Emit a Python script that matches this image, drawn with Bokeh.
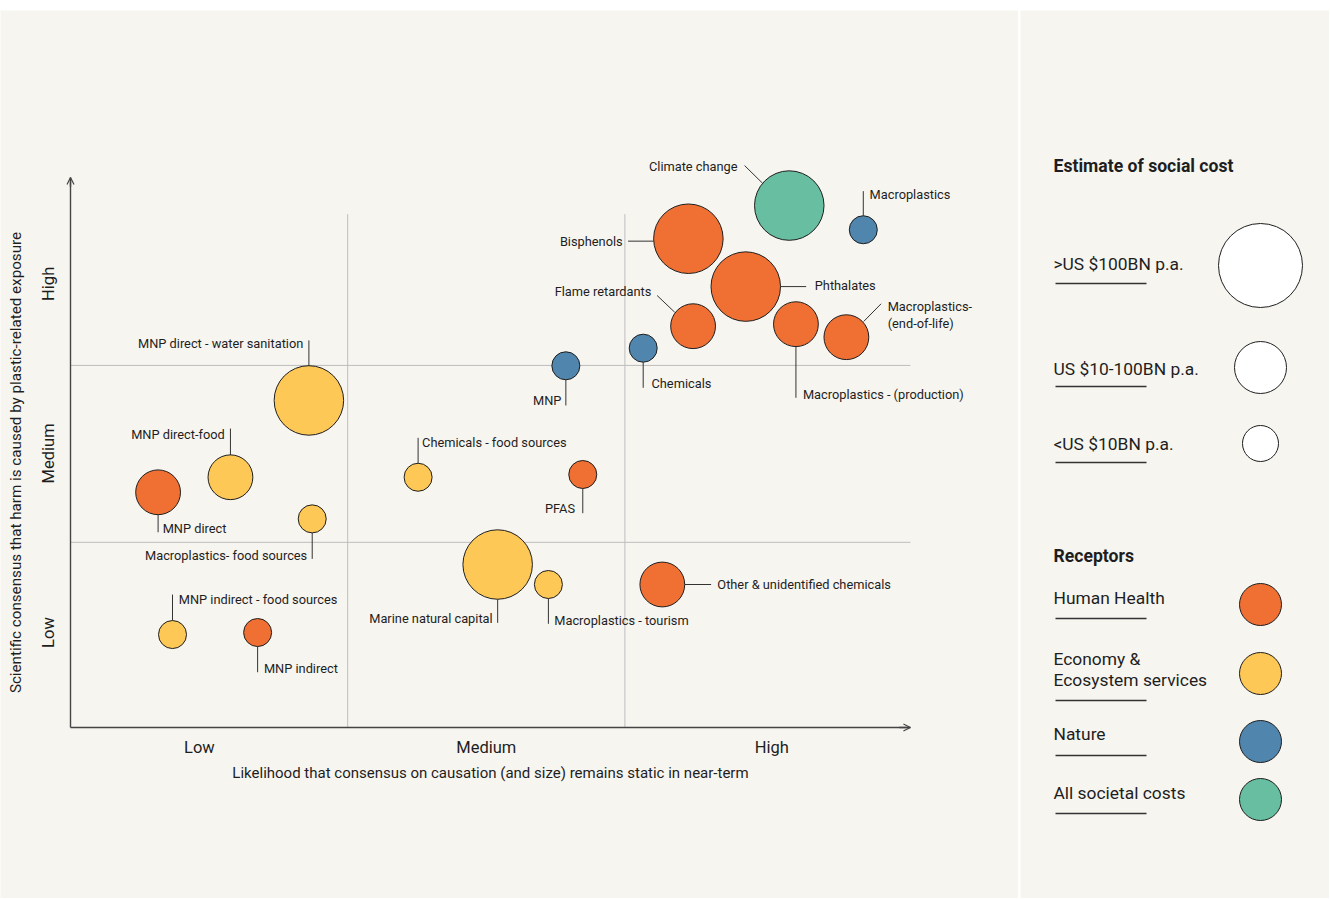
import math
from bokeh.plotting import figure
from bokeh.layouts import row, column
from bokeh.models import ColumnDataSource, Arrow, OpenHead, Range1d, Spacer
from bokeh.core.properties import value
from bokeh.embed import file_html
from bokeh.resources import INLINE

# ---------------- data ----------------
labels = ["Climate change", "Macroplastics", "Bisphenols", "Phthalates", "Flame retardants",
          "Macroplastics - (production)", "Macroplastics-\n(end-of-life)", "Chemicals", "MNP",
          "MNP direct - water sanitation", "MNP direct-food", "MNP direct",
          "Macroplastics- food sources", "Chemicals - food sources", "PFAS",
          "Marine natural capital", "Macroplastics - tourism", "Other & unidentified chemicals",
          "MNP indirect - food sources", "MNP indirect"]
likelihood = [2.593, 2.860, 2.229, 2.436, 2.246, 2.617, 2.799, 2.066, 1.787, 0.860,
              0.577, 0.316, 0.872, 1.254, 1.848, 1.541, 1.724, 2.135, 0.368, 0.675]
consensus = [2.847, 2.715, 2.666, 2.405, 2.189, 2.200, 2.129, 2.069, 1.973, 1.784,
             1.365, 1.283, 1.138, 1.365, 1.380, 0.889, 0.780, 0.780, 0.507, 0.518]
receptor = ["All societal costs", "Nature", "Human Health", "Human Health", "Human Health",
            "Human Health", "Human Health", "Nature", "Nature", "Economy & Ecosystem services",
            "Economy & Ecosystem services", "Human Health", "Economy & Ecosystem services",
            "Economy & Ecosystem services", "Human Health", "Economy & Ecosystem services",
            "Economy & Ecosystem services", "Human Health", "Economy & Ecosystem services",
            "Human Health"]
cost = [">US $100BN p.a.", "<US $10BN p.a.", ">US $100BN p.a.", ">US $100BN p.a.",
        "US $10-100BN p.a.", "US $10-100BN p.a.", "US $10-100BN p.a.", "<US $10BN p.a.",
        "<US $10BN p.a.", ">US $100BN p.a.", "US $10-100BN p.a.", "US $10-100BN p.a.",
        "<US $10BN p.a.", "<US $10BN p.a.", "<US $10BN p.a.", ">US $100BN p.a.",
        "<US $10BN p.a.", "US $10-100BN p.a.", "<US $10BN p.a.", "<US $10BN p.a."]

level_labels = ["Low", "Medium", "High"]
x_level_ticks = [0.465, 1.50, 2.53]
y_level_ticks = [0.518, 1.495, 2.42]
x_dividers = [1.0, 2.0]
y_dividers = [1.01, 1.975]
x_axis_max = 3.03
y_axis_max = 3.0

cost_categories = [">US $100BN p.a.", "US $10-100BN p.a.", "<US $10BN p.a."]
receptor_categories = ["Human Health", "Economy & Ecosystem services", "Nature", "All societal costs"]
receptor_legend_text = ["Human Health", "Economy &\nEcosystem services", "Nature", "All societal costs"]

x_title = "Likelihood that consensus on causation (and size) remains static in near-term"
y_title = "Scientific consensus that harm is caused by plastic-related exposure"

# ---------------- styles ----------------
BG = "#F7F5F0"
INK = "#1e1e1e"
AXIS = "#444444"
FONT = "Roboto"
receptor_colors = {"Human Health": "#F07034", "Economy & Ecosystem services": "#FEC856",
                   "Nature": "#5085AD", "All societal costs": "#67BEA0"}
cost_sizes = {">US $100BN p.a.": 69.5, "US $10-100BN p.a.": 44.8, "<US $10BN p.a.": 28.0}
legend_cost_sizes = [84, 52, 36]

PX_X = 277.2   # pixels per x unit
PX_Y = 183.33  # pixels per y unit
TOP_GAP = 10
W_MAIN, H = 1018, 888
ORIGIN_X = 70            # canvas px from left where x=0
ORIGIN_Y = H - 717       # canvas px from bottom where y=0

# leader lines and label anchors as pixel offsets from bubble centre (screen y down)
# (x1, y1, x2, y2, tx, ty, align)
label_layout = [
    (-44.7, -40, -26.7, -22.3, -51.7, -39.3, "right"),
    (0, -14, 0, -38.6, 6.3, -35, "left"),
    (-60.3, 2.4, -34.7, 2.4, -65.7, 2.7, "right"),
    (34.7, 0, 60.4, 0, 69, -1, "left"),
    (-36, -30.7, -18.4, -14, -41.7, -34.7, "right"),
    (0, 22.3, 0, 73.6, 7, 70.3, "left"),
    (17.3, -15.7, 34.7, -33.4, 41.3, -31, "left"),
    (0, 14, 0, 39.6, 8.3, 35.6, "left"),
    (0, 14, 0, 39.7, -4.5, 34.7, "right"),
    (0, -34.7, 0, -60, -5.6, -57.3, "right"),
    (0, -22.3, 0, -48.7, -5.7, -42.7, "right"),
    (0, 22.3, 0, 40, 4.6, 36, "left"),
    (0, 14, 0, 40, -5, 36.7, "right"),
    (0, -14, 0, -39.4, 4, -35, "left"),
    (0, 14, 0, 38.7, -7.7, 34.3, "right"),
    (0, 34.7, 0, 58.3, -5, 53.7, "right"),
    (0, 14, 0, 39.3, 5.9, 36, "left"),
    (22.4, 0, 48.8, 0, 55, -0.3, "left"),
    (0, -14, 0, -40, 6.3, -35, "left"),
    (0, 14, 0, 39.7, 6.3, 35.7, "left"),
]

# ---------------- main chart ----------------
p = figure(width=W_MAIN, height=H,
           x_range=Range1d(-ORIGIN_X / PX_X, (W_MAIN - ORIGIN_X) / PX_X),
           y_range=Range1d(-ORIGIN_Y / PX_Y, (H - ORIGIN_Y) / PX_Y),
           output_backend="svg", toolbar_location=None, min_border=0)
p.background_fill_color = BG
p.border_fill_color = BG
p.outline_line_color = None
p.grid.visible = False
p.axis.visible = False

# dividers
top_div = 2.80
p.segment(x0=x_dividers, y0=[0] * len(x_dividers), x1=x_dividers, y1=[top_div] * len(x_dividers),
          line_color="#BDBDBD", line_width=1)
p.segment(x0=[0] * len(y_dividers), y0=y_dividers, x1=[x_axis_max] * len(y_dividers), y1=y_dividers,
          line_color="#BDBDBD", line_width=1)

# axis lines with arrows
p.segment(x0=[0, 0], y0=[0, 0], x1=[x_axis_max, 0], y1=[0, y_axis_max], line_color=AXIS, line_width=1.4)
p.add_layout(Arrow(end=OpenHead(size=7, line_color=AXIS, line_width=1.2), line_color=AXIS,
                   line_width=1.4, x_start=x_axis_max - 0.04, y_start=0, x_end=x_axis_max, y_end=0))
p.add_layout(Arrow(end=OpenHead(size=7, line_color=AXIS, line_width=1.2), line_color=AXIS,
                   line_width=1.4, x_start=0, y_start=y_axis_max - 0.05, x_end=0, y_end=y_axis_max))

# tick labels and axis titles
p.text(x=x_level_ticks, y=[-20 / PX_Y] * 3, text=level_labels, text_align="center",
       text_baseline="middle", text_font=value(FONT), text_font_size="16.5px", text_color=INK)
p.text(x=[-22 / PX_X] * 3, y=y_level_ticks, text=level_labels, angle=math.pi / 2,
       text_align="center", text_baseline="middle", text_font=value(FONT),
       text_font_size="16.5px", text_color=INK)
p.text(x=[x_axis_max / 2], y=[-45 / PX_Y], text=[x_title], text_align="center",
       text_baseline="middle", text_font=value(FONT), text_font_size="15px", text_color=INK)
p.text(x=[-55 / PX_X], y=[265 / PX_Y], text=[y_title], angle=math.pi / 2, text_align="center",
       text_baseline="middle", text_font=value(FONT), text_font_size="15.2px", text_color=INK)

# leader lines + labels
lx0, ly0, lx1, ly1 = [], [], [], []
tx, ty, tt, ta = [], [], [], []
for i, lab in enumerate(labels):
    x1, y1, x2, y2, ox, oy, al = label_layout[i]
    cx, cy = likelihood[i], consensus[i]
    lx0.append(cx + x1 / PX_X); ly0.append(cy - y1 / PX_Y)
    lx1.append(cx + x2 / PX_X); ly1.append(cy - y2 / PX_Y)
    for k, line in enumerate(lab.split("\n")):
        tx.append(cx + ox / PX_X)
        ty.append(cy - (oy + k * 17.6) / PX_Y)
        tt.append(line)
        ta.append(al)
p.segment(x0=lx0, y0=ly0, x1=lx1, y1=ly1, line_color="#333333", line_width=1)

src = ColumnDataSource(dict(x=likelihood, y=consensus, label=labels,
                            color=[receptor_colors[r] for r in receptor],
                            size=[cost_sizes[c] for c in cost]))
p.scatter(x="x", y="y", size="size", marker="circle", fill_color="color", line_color=INK,
          line_width=1, source=src)

tsrc = ColumnDataSource(dict(x=tx, y=ty, text=tt, align=ta))
p.text(x="x", y="y", text="text", text_align="align", text_baseline="middle", source=tsrc,
       text_font=value(FONT), text_font_size="12.8px", text_color=INK)

# ---------------- legend panel ----------------
W_LEG = 309
lg = figure(width=W_LEG, height=H, x_range=Range1d(0, W_LEG), y_range=Range1d(H, 0),
            output_backend="svg", toolbar_location=None, min_border=0)
lg.background_fill_color = BG
lg.border_fill_color = BG
lg.outline_line_color = None
lg.axis.visible = False
lg.grid.visible = False

TEXT_X, CIRCLE_X = 33, 240
UL_X0, UL_X1 = 35, 126

lg.text(x=[TEXT_X, TEXT_X], y=[155, 545], text=["Estimate of social cost", "Receptors"],
        text_baseline="middle", text_font=value(FONT), text_font_style="bold",
        text_font_size="17.6px", text_color=INK)

cost_text_y = [253, 358, 433]
cost_circle_y = [255, 357, 433]
cost_ul_y = [273, 376, 452]
lg.text(x=[TEXT_X] * 3, y=cost_text_y, text=cost_categories, text_baseline="middle",
        text_font=value(FONT), text_font_size="17.4px", text_color=INK)
lg.scatter(x=[CIRCLE_X] * 3, y=cost_circle_y, size=legend_cost_sizes, marker="circle",
           fill_color="white", line_color=INK, line_width=1)
lg.segment(x0=[UL_X0] * 3, y0=cost_ul_y, x1=[UL_X1] * 3, y1=cost_ul_y, line_color="#333333", line_width=1.3)

rec_text_y = [587, 648, 723, 782]
rec_circle_y = [594, 663, 731, 789]
rec_ul_y = [608, 690, 745, 803]
rx, ry, rt = [], [], []
for t, yy in zip(receptor_legend_text, rec_text_y):
    for k, line in enumerate(t.split("\n")):
        rx.append(TEXT_X); ry.append(yy + k * 21.6); rt.append(line)
lg.text(x=rx, y=ry, text=rt, text_baseline="middle", text_font=value(FONT),
        text_font_size="17.4px", text_color=INK)
lg.scatter(x=[CIRCLE_X] * 4, y=rec_circle_y, size=42, marker="circle",
           fill_color=[receptor_colors[r] for r in receptor_categories], line_color=INK, line_width=1)
lg.segment(x0=[UL_X0] * 4, y0=rec_ul_y, x1=[UL_X1] * 4, y1=rec_ul_y, line_color="#333333", line_width=1.3)

layout = column(Spacer(width=W_MAIN + 2 + W_LEG, height=TOP_GAP), row(p, lg, spacing=2))
open("out.html", "w").write(file_html(layout, INLINE))
